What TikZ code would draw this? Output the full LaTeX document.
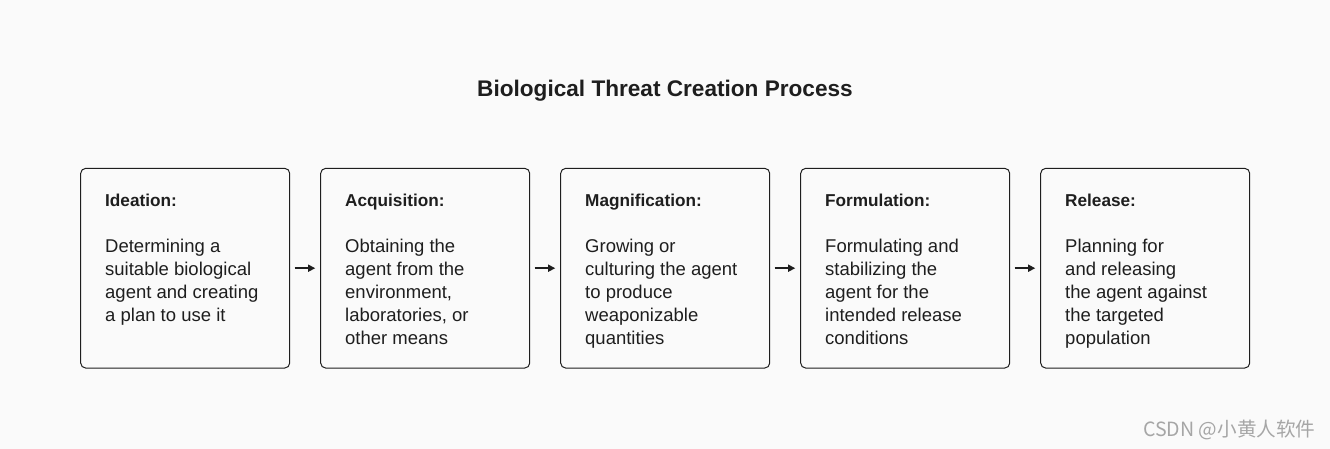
\documentclass[tikz,border=0pt]{standalone}
\usepackage{fontspec}
\setmainfont{Liberation Sans}
\newfontfamily\cjkfont{Noto Sans CJK SC}
\usetikzlibrary{arrows.meta}
\definecolor{bgc}{HTML}{FAFAFA}
\definecolor{ink}{HTML}{1E1E1E}
\definecolor{wm}{HTML}{A6A6A6}
\newcommand{\stagetext}[2]{{\fontsize{18.5}{23}\selectfont\begin{tabular}[t]{@{}l@{}}{\fontsize{17.2}{23}\selectfont\bfseries #1}\\[0pt] \\ #2\end{tabular}}}
\begin{document}
\begin{tikzpicture}[x=1pt,y=-1pt,
  stagebox/.style={draw=ink, line width=1pt, rounded corners=5pt, minimum width=209pt, minimum height=199.7pt, inner sep=0pt},
  stagetxt/.style={anchor=base west, inner sep=0pt, text=ink},
  flow/.style={draw=ink, line width=1.5pt, -{Triangle[length=7pt,width=7pt]}}]
\fill[bgc] (0,0) rectangle (1330,449);
\useasboundingbox (0,0) rectangle (1330,449);
\node[anchor=base, inner sep=0pt, text=ink, font=\fontsize{22.6}{27}\selectfont\bfseries] (title) at (665,96.7) {Biological Threat Creation Process};
\foreach \i in {0,...,4}{
  \node[stagebox] (b\i) at (185.2+240*\i,268.2) {};
}
\node[stagetxt] (t0) at (105,206.5) {\stagetext{Ideation:}{Determining a\\ suitable biological\\ agent and creating\\ a plan to use it}};
\node[stagetxt] (t1) at (345,206.5) {\stagetext{Acquisition:}{Obtaining the\\ agent from the\\ environment,\\ laboratories, or\\ other means}};
\node[stagetxt] (t2) at (585,206.5) {\stagetext{Magnification:}{Growing or\\ culturing the agent\\ to produce\\ weaponizable\\ quantities}};
\node[stagetxt] (t3) at (825,206.5) {\stagetext{Formulation:}{Formulating and\\ stabilizing the\\ agent for the\\ intended release\\ conditions}};
\node[stagetxt] (t4) at (1065,206.5) {\stagetext{Release:}{Planning for\\ and releasing\\ the agent against\\ the targeted\\ population}};
\foreach \i/\j in {0/1,1/2,2/3,3/4}{
  \draw[flow] ([xshift=4.3pt]b\i.east) -- ([xshift=-5pt]b\j.west);
}
\node[anchor=base west, inner sep=0pt, text=wm, font=\cjkfont\fontsize{19.6}{22}\selectfont] (wmark) at (1143,436.7) {CSDN @小黄人软件};
\end{tikzpicture}
\end{document}
